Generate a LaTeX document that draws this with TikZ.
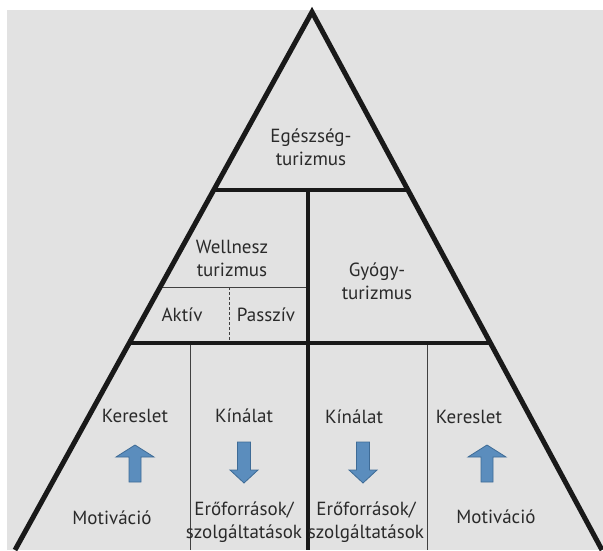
\documentclass[tikz,border=0pt]{standalone}
\usepackage{fontspec}
\setmainfont{PT Sans}
\begin{document}
\begin{tikzpicture}[x=1pt,y=-1pt,
  lbl/.style={text=txt, align=center, inner sep=0pt, font=\fontsize{19}{23}\selectfont},
  thickline/.style={line width=4pt, draw=black!90},
  sideline/.style={line width=5pt, draw=black!90, line join=miter},
  thinline/.style={line width=0.9pt, draw=black!75},
  arrowfill/.style={fill=arrowblue, draw=arrowedge, line width=0.8pt, line join=miter}]
\definecolor{bg}{HTML}{E2E2E2}
\definecolor{txt}{HTML}{2A2A2A}
\definecolor{arrowblue}{HTML}{5B8DBD}
\definecolor{arrowedge}{HTML}{3E6B96}
\useasboundingbox (0,0) rectangle (603,550);
\fill[white] (0,0) rectangle (603,550);
\fill[bg] (7,10) rectangle (603,550);
% corner points
\coordinate (A) at (312,12);
\coordinate (BL) at (15,550);
\coordinate (BR) at (602,550);
\coordinate (L1) at (213.7,190);
\coordinate (R1) at (408,190);
\coordinate (L2) at (129.3,343);
\coordinate (R2) at (490.4,343);
\coordinate (LW) at (160.2,287);
\coordinate (C1) at (308,190);
\coordinate (C2) at (308,343);
\coordinate (CB) at (308,550);
\coordinate (WM) at (308,287);
\coordinate (D1) at (229,287);
\coordinate (D2) at (229,343);
\coordinate (V1t) at (190,343);
\coordinate (V1b) at (190,550);
\coordinate (V2t) at (427,343);
\coordinate (V2b) at (427,550);
% inner lines
\draw[thinline] (LW) -- (WM);
\draw[densely dashed, line width=0.8pt, draw=black!75] (D1) -- (D2);
\draw[thinline] (V1t) -- (V1b);
\draw[thinline] (V2t) -- (V2b);
\draw[line width=3.5pt, draw=black!90] (C1) -- (CB);
\draw[thickline] (L1) -- (R1);
\draw[thickline] (L2) -- (R2);
% triangle sides
\draw[sideline] (BL) -- (A) -- (BR);
% labels
\node[lbl] (egesz) at (311,147) {Egészség-\\turizmus};
\node[lbl] (well) at (232,258) {Wellnesz\\turizmus};
\node[lbl] (gyogy) at (377,281) {Gyógy-\\turizmus};
\node[lbl] (aktiv) at (182,315) {Aktív};
\node[lbl] (passziv) at (266,315) {Passzív};
\node[lbl] (ker1) at (135,416) {Kereslet};
\node[lbl] (kin1) at (244,416) {Kínálat};
\node[lbl] (kin2) at (354,417) {Kínálat};
\node[lbl] (ker2) at (469,417) {Kereslet};
\node[lbl] (mot1) at (112,518) {Motiváció};
\node[lbl] (ero1) at (244,522) {Erőforrások/\\szolgáltatások};
\node[lbl] (ero2) at (366,522) {Erőforrások/\\szolgáltatások};
\node[lbl] (mot2) at (496,517) {Motiváció};
% arrows
\draw[arrowfill] (135,482) -- ++(-6,0) -- ++(0,-25) -- ++(-13,0) -- ++(19,-12) -- ++(19,12) -- ++(-13,0) -- ++(0,25) -- cycle;
\draw[arrowfill] (487,482) -- ++(-6,0) -- ++(0,-25) -- ++(-13,0) -- ++(19,-12) -- ++(19,12) -- ++(-13,0) -- ++(0,25) -- cycle;
\draw[arrowfill] (244,483) -- ++(-14,-13) -- ++(7.5,0) -- ++(0,-28) -- ++(13,0) -- ++(0,28) -- ++(7.5,0) -- cycle;
\draw[arrowfill] (363,483) -- ++(-14,-13) -- ++(7.5,0) -- ++(0,-28) -- ++(13,0) -- ++(0,28) -- ++(7.5,0) -- cycle;
\end{tikzpicture}
\end{document}
